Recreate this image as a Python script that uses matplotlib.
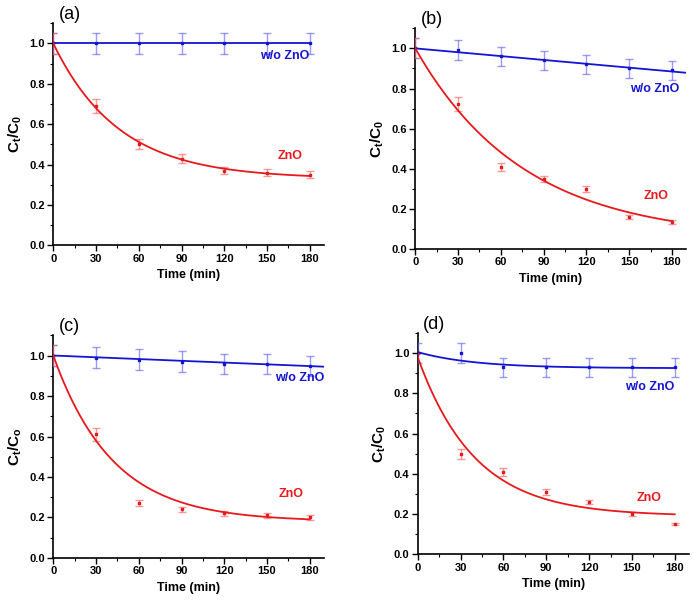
import matplotlib
matplotlib.use("Agg")
import matplotlib.pyplot as plt
import numpy as np
from matplotlib.ticker import MultipleLocator

plt.rcParams['font.family'] = ['Liberation Sans', 'DejaVu Sans']
plt.rcParams['font.weight'] = 'bold'
plt.rcParams['mathtext.fontset'] = 'custom'
plt.rcParams['mathtext.bf'] = 'Liberation Sans:bold'
plt.rcParams['mathtext.rm'] = 'Liberation Sans:bold'

# Datos
time = [0, 30, 60, 90, 120, 150, 180]

a_blue = [1.0, 1.0, 1.0, 1.0, 1.0, 1.0, 1.0]
a_blue_err = [0.05, 0.05, 0.05, 0.05, 0.05, 0.05, 0.05]
a_red = [1.0, 0.69, 0.50, 0.43, 0.37, 0.36, 0.35]
a_red_err = [0.05, 0.035, 0.025, 0.02, 0.018, 0.018, 0.018]

b_blue = [1.0, 0.99, 0.96, 0.94, 0.92, 0.90, 0.89]
b_blue_err = [0.05, 0.05, 0.047, 0.047, 0.047, 0.047, 0.047]
b_red = [1.0, 0.725, 0.41, 0.35, 0.30, 0.16, 0.135]
b_red_err = [0.05, 0.035, 0.02, 0.015, 0.015, 0.01, 0.008]

c_blue = [1.0, 0.99, 0.98, 0.97, 0.96, 0.96, 0.95]
c_blue_err = [0.05, 0.05, 0.05, 0.05, 0.05, 0.05, 0.05]
c_red = [1.0, 0.61, 0.27, 0.24, 0.22, 0.21, 0.20]
c_red_err = [0.05, 0.03, 0.015, 0.012, 0.012, 0.012, 0.012]

d_blue = [1.0, 1.0, 0.93, 0.93, 0.93, 0.93, 0.93]
d_blue_err = [0.05, 0.05, 0.047, 0.047, 0.047, 0.047, 0.047]
d_red = [1.0, 0.50, 0.41, 0.31, 0.26, 0.20, 0.15]
d_red_err = [0.0, 0.025, 0.02, 0.015, 0.012, 0.01, 0.006]

# Parametros de ajuste: y = y0 + A*exp(-k t)
a_red_fit = [0.33, 0.67, 0.0217]
b_red_fit = [0.05, 0.95, 0.01315]
c_red_fit = [0.18, 0.82, 0.024]
d_red_fit = [0.19, 0.79, 0.025]
d_blue_fit = [0.925, 0.08, 0.025]
# Ajustes lineales: y = b + m t
a_blue_lin = [1.0, 0.0]
b_blue_lin = [1.0, -0.00064]
c_blue_lin = [1.0, -0.00029]

BLUE = '#1414d2'
RED = '#e8191b'
BLUE_E = (0.35, 0.35, 0.95, 0.6)
RED_E = (0.95, 0.35, 0.35, 0.6)

panels = [
    dict(label='(a)', pos=[0.0768, 0.5939, 0.390, 0.3675],
         blue=a_blue, blue_err=a_blue_err, red=a_red, red_err=a_red_err,
         blue_fit=('lin', a_blue_lin, 180), red_fit=a_red_fit,
         ylab=r'C$_\mathbf{t}$/C$_\mathbf{0}$',
         wo=(180, 0.94), zn=(166, 0.44)),
    dict(label='(b)', pos=[0.5984, 0.5877, 0.3905, 0.3654],
         blue=b_blue, blue_err=b_blue_err, red=b_red, red_err=b_red_err,
         blue_fit=('lin', b_blue_lin, 190), red_fit=b_red_fit,
         ylab=r'C$_\mathbf{t}$/C$_\mathbf{0}$',
         wo=(185, 0.80), zn=(169, 0.263)),
    dict(label='(c)', pos=[0.0768, 0.0762, 0.390, 0.3687],
         blue=c_blue, blue_err=c_blue_err, red=c_red, red_err=c_red_err,
         blue_fit=('lin', c_blue_lin, 190), red_fit=c_red_fit,
         ylab=r'C$_\mathbf{t}$/C$_\mathbf{o}$',
         wo=(190.5, 0.89), zn=(167, 0.314)),
    dict(label='(d)', pos=[0.6019, 0.0823, 0.391, 0.3664],
         blue=d_blue, blue_err=d_blue_err, red=d_red, red_err=d_red_err,
         blue_fit=('exp', d_blue_fit, 180), red_fit=d_red_fit,
         ylab=r'C$_\mathbf{t}$/C$_\mathbf{0}$',
         wo=(180, 0.83), zn=(162, 0.281)),
]

fig = plt.figure(figsize=(6.94, 6.04), dpi=100)

for p in panels:
    ax = fig.add_axes(p['pos'])
    t = np.array(time)

    # barras de error y puntos
    ax.errorbar(t, p['blue'], yerr=p['blue_err'], fmt='s', ms=2.0, color=BLUE,
                ecolor=BLUE_E, elinewidth=1.0, capsize=3, capthick=1.0, zorder=3)
    ax.errorbar(t, p['red'], yerr=p['red_err'], fmt='s', ms=2.0, color=RED,
                ecolor=RED_E, elinewidth=1.0, capsize=3, capthick=1.0, zorder=3)

    # curvas de ajuste
    kind, par, tend = p['blue_fit']
    tt = np.linspace(0, tend, 200)
    if kind == 'lin':
        yb = par[0] + par[1] * tt
    else:
        yb = par[0] + par[1] * np.exp(-par[2] * tt)
    ax.plot(tt, yb, color=BLUE, lw=1.3, zorder=4)
    tr = np.linspace(0, 180, 300)
    y0, A, k = p['red_fit']
    ax.plot(tr, y0 + A * np.exp(-k * tr), color=RED, lw=1.3, zorder=4)

    ax.text(p['wo'][0], p['wo'][1], 'w/o ZnO', color=BLUE, fontsize=9,
            fontweight='bold', ha='right', va='center')
    ax.text(p['zn'][0], p['zn'][1], 'ZnO', color=RED, fontsize=9,
            fontweight='bold', ha='center', va='center')

    ax.set_xlim(0, 190)
    ax.set_ylim(0, 1.1)
    ax.xaxis.set_major_locator(MultipleLocator(30))
    ax.xaxis.set_minor_locator(MultipleLocator(15))
    ax.yaxis.set_major_locator(MultipleLocator(0.2))
    ax.yaxis.set_minor_locator(MultipleLocator(0.1))
    ax.set_yticks(np.arange(0, 1.01, 0.2))
    ax.set_yticklabels(['%.1f' % v for v in np.arange(0, 1.01, 0.2)])
    for s in ['top', 'right']:
        ax.spines[s].set_visible(False)
    for s in ['left', 'bottom']:
        ax.spines[s].set_linewidth(1.2)
    ax.tick_params(which='major', direction='out', length=4, width=1.0,
                   labelsize=8, pad=2)
    ax.tick_params(which='minor', direction='out', length=2, width=0.8)
    for lab in ax.get_xticklabels() + ax.get_yticklabels():
        lab.set_fontweight('bold')
    ax.set_xlabel('Time (min)', fontsize=9, fontweight='bold', labelpad=4)
    ax.set_ylabel(p['ylab'], fontsize=11, fontweight='bold', labelpad=4)
    ax.text(0.02, 1.0, p['label'], transform=ax.transAxes, fontsize=13,
            fontweight='normal', ha='left', va='bottom')

fig.savefig('out.png', dpi=100)
